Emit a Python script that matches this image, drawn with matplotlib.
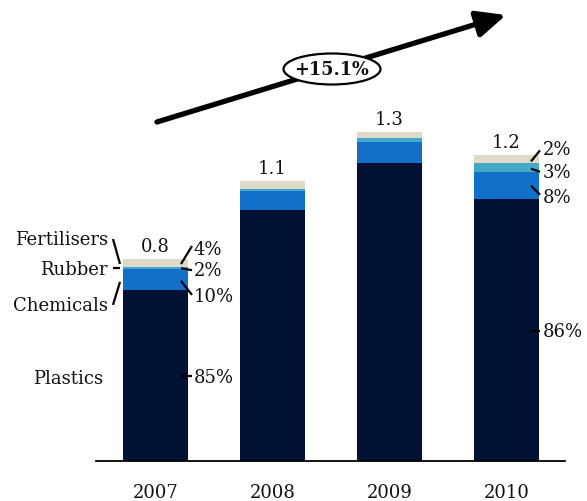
import matplotlib
matplotlib.use("Agg")
import matplotlib.pyplot as plt
from matplotlib.patches import Ellipse
import numpy as np

plt.rcParams['font.family'] = ['DejaVu Serif']

years = ["2007", "2008", "2009", "2010"]
segments = ["Plastics", "Chemicals", "Rubber", "Fertilisers"]
plastics = [0.672, 0.988, 1.173, 1.031]
chemicals = [0.082, 0.075, 0.083, 0.106]
rubber = [0.010, 0.008, 0.016, 0.035]
fertilisers = [0.031, 0.031, 0.024, 0.031]
totals_labels = ["0.8", "1.1", "1.3", "1.2"]
pct_2007 = ["85%", "10%", "2%", "4%"]
pct_2010 = ["86%", "8%", "3%", "2%"]
cagr_label = "+15.1%"

colors = ["#001133", "#1270C8", "#42A8C6", "#DED9C8"]
FS = 13

W, H = 587, 502
fig = plt.figure(figsize=(W / 100, H / 100), dpi=100)
# axes spans pixel x 96..565, y 0..462 (from top)
ax = fig.add_axes([96 / W, (H - 462) / H, (565 - 96) / W, 462 / H])
ax.set_xlim(-0.5085, 3.5)
ax.set_ylim(0, 462 / 254)

x = np.arange(len(years))
bw = 65 / 117
series = [plastics, chemicals, rubber, fertilisers]
bottom = np.zeros(len(years))
centers = []
for vals, c in zip(series, colors):
    vals = np.array(vals)
    ax.bar(x, vals, bw, bottom=bottom, color=c, linewidth=0, zorder=2)
    centers.append(bottom + vals / 2)
    bottom = bottom + vals
totals = bottom

for xi, t, lab in zip(x, totals, totals_labels):
    ax.annotate(lab, (xi, t), xytext=(0, 8), textcoords='offset pixels',
                ha='center', va='baseline', fontsize=FS, color='#111111')

for s in ['top', 'right', 'left']:
    ax.spines[s].set_visible(False)
ax.spines['bottom'].set_linewidth(1.3)
ax.set_yticks([])
ax.set_xticks(x)
ax.set_xticklabels(years, fontsize=FS, color='#111111')
ax.tick_params(axis='x', length=0, pad=16)


def place(xd, yd, dx, dy, text, ha):
    ax.annotate(text, (xd, yd), xytext=(dx, dy), textcoords='offset pixels',
                ha=ha, va='center', fontsize=FS, color='#111111',
                annotation_clip=False)


def line_from(xd, yd, start, end):
    # start/end are pixel offsets relative to (xd, yd)
    tr = ax.transData
    base = tr.transform((xd, yd))
    inv = tr.inverted()
    d0 = inv.transform(base + np.array(start))
    d1 = inv.transform(base + np.array(end))
    ax.plot([d0[0], d1[0]], [d0[1], d1[1]], color='black', lw=1.6,
            solid_capstyle='butt', clip_on=False, zorder=4)


# 2007 right labels (order: plastics, chemicals, rubber, fertilisers)
r07 = x[0] + bw / 2
right07 = [((-7, 0), (4, 0), (6, -1)),
           ((-7, -1), (4, -15), (6, -16)),
           ((-7, 0), (4, -2), (6, -2)),
           ((-7, -1), (4, 17), (6, 14))]
for k in range(4):
    yd = centers[k][0]
    st, en, tx = right07[k]
    line_from(r07, yd, st, en)
    place(r07, yd, tx[0], tx[1], pct_2007[k], 'left')

# 2010 right labels
r10 = x[3] + bw / 2
right10 = [((-8, -1), (1, -1), (4, -1)),
           ((-8, 0), (1, -9), (4, -11)),
           ((-8, -1), (1, -4), (4, -4)),
           ((-8, -2), (1, 9), (4, 10))]
for k in range(4):
    yd = centers[k][3]
    st, en, tx = right10[k]
    line_from(r10, yd, st, en)
    place(r10, yd, tx[0], tx[1], pct_2010[k], 'left')

# 2007 left segment names
l07 = x[0] - bw / 2
left07 = [(None, None, (-20, -2)),
          ((-3, -2), (-10, -25), (-15, -25)),
          ((-3, 0), (-10, 0), (-15, -1)),
          ((-3, -1), (-10, 24), (-15, 24))]
for k in range(4):
    yd = centers[k][0]
    st, en, tx = left07[k]
    if st is not None:
        line_from(l07, yd, st, en)
    place(l07, yd, tx[0], tx[1], segments[k], 'right')


# growth arrow
def px2d(px, py):
    return ((px - 155.5) / 117, (462 - py) / 254)


t0 = px2d(157, 123)
t1 = px2d(506, 16)
ax.annotate('', xy=t1, xytext=t0, annotation_clip=False,
            arrowprops=dict(arrowstyle='-|>,head_length=1.1,head_width=0.5',
                            lw=3.8, color='black', shrinkA=0, shrinkB=0,
                            mutation_scale=16), zorder=5)
ec = px2d(332, 70)
ell = Ellipse(ec, 97 / 117, 31 / 254, facecolor='white', edgecolor='black',
              lw=1.6, zorder=6, clip_on=False)
ax.add_patch(ell)
ax.text(ec[0], ec[1], cagr_label, ha='center', va='center', fontsize=12.8,
        fontweight='bold', zorder=7, color='#111111')

fig.savefig("out.png", dpi=100)
